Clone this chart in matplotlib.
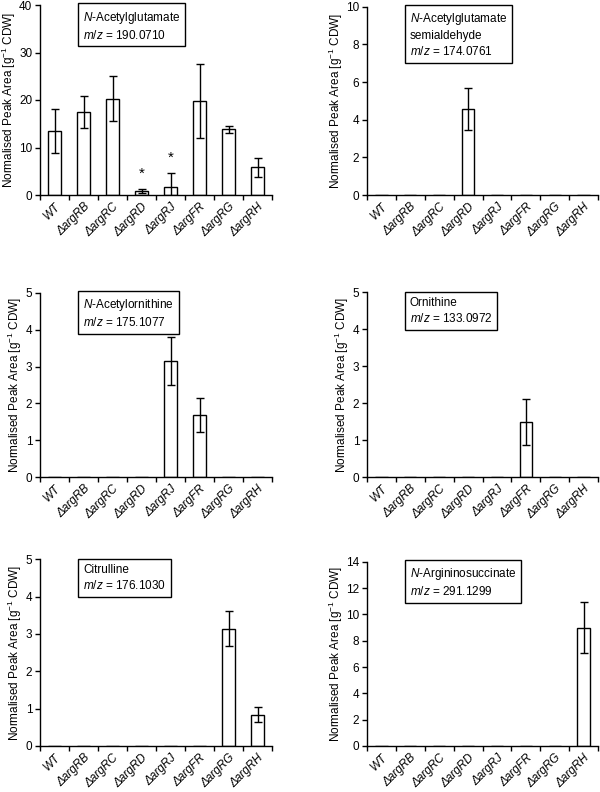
import numpy as np
import matplotlib.pyplot as plt

plt.rcParams['font.family'] = ['Liberation Sans', 'DejaVu Sans']
plt.rcParams['mathtext.fontset'] = 'custom'
plt.rcParams['mathtext.rm'] = 'Liberation Sans'
plt.rcParams['mathtext.it'] = 'Liberation Sans:italic'

strains = ["WT", "ΔargRB", "ΔargRC", "ΔargRD", "ΔargRJ", "ΔargFR", "ΔargRG", "ΔargRH"]

# N-Acetylglutamate
nag_mean = [13.5, 17.5, 20.3, 0.85, 1.75, 19.8, 13.8, 5.8]
nag_err = [4.7, 3.3, 4.7, 0.45, 2.95, 7.7, 0.75, 2.05]
nag_stars = [3, 4]
# N-Acetylglutamate semialdehyde
nags_mean = [0, 0, 0, 4.58, 0, 0, 0, 0]
nags_err = [0, 0, 0, 1.12, 0, 0, 0, 0]
# N-Acetylornithine
nao_mean = [0, 0, 0, 0, 3.15, 1.7, 0, 0]
nao_err = [0, 0, 0, 0, 0.64, 0.46, 0, 0]
# Ornithine
orn_mean = [0, 0, 0, 0, 0, 1.49, 0, 0]
orn_err = [0, 0, 0, 0, 0, 0.63, 0, 0]
# Citrulline
cit_mean = [0, 0, 0, 0, 0, 0, 3.14, 0.84]
cit_err = [0, 0, 0, 0, 0, 0, 0.47, 0.2]
# N-Argininosuccinate
asa_mean = [0, 0, 0, 0, 0, 0, 0, 9.0]
asa_err = [0, 0, 0, 0, 0, 0, 0, 1.95]

panels = [
    (r"$\it{N}$-Acetylglutamate" + "\n" + r"$\it{m/z}$ = 190.0710", nag_mean, nag_err, nag_stars, 40, 10,
     [40, 5, 232, 190]),
    (r"$\it{N}$-Acetylglutamate" + "\nsemialdehyde\n" + r"$\it{m/z}$ = 174.0761", nags_mean, nags_err, [], 10, 2,
     [367, 6.7, 231, 188.3]),
    (r"$\it{N}$-Acetylornithine" + "\n" + r"$\it{m/z}$ = 175.1077", nao_mean, nao_err, [], 5, 1,
     [40, 292.7, 232, 184.6]),
    ("Ornithine\n" + r"$\it{m/z}$ = 133.0972", orn_mean, orn_err, [], 5, 1,
     [367, 292.3, 231, 185]),
    ("Citrulline\n" + r"$\it{m/z}$ = 176.1030", cit_mean, cit_err, [], 5, 1,
     [40, 559.3, 232, 186.7]),
    (r"$\it{N}$-Argininosuccinate" + "\n" + r"$\it{m/z}$ = 291.1299", asa_mean, asa_err, [], 14, 2,
     [367, 561.7, 231, 184.3]),
]

W, H = 600, 792
fig = plt.figure(figsize=(6, 7.92), dpi=100)

for label, mean, err, stars, ymax, ystep, (px, py, pw, ph) in panels:
    ax = fig.add_axes([px / W, 1 - (py + ph) / H, pw / W, ph / H])
    x = np.arange(len(strains))
    mean = np.array(mean)
    err = np.array(err)
    ax.bar(x, mean, width=0.42, color="white", edgecolor="black", linewidth=1.0, zorder=2)
    nz = mean > 0
    ax.errorbar(x[nz], mean[nz], yerr=err[nz], fmt="none", ecolor="black",
                elinewidth=1.0, capsize=3.2, capthick=1.0, zorder=3)
    for i in stars:
        ax.annotate("*", (x[i], mean[i] + err[i]), xytext=(0, 5.5), textcoords="offset points",
                    ha="center", va="bottom", fontsize=11)
    ax.set_xlim(-0.5, 7.5)
    ax.set_ylim(0, ymax)
    ax.set_yticks(np.arange(0, ymax + 0.01, ystep))
    ax.set_xticks(x)
    ax.set_xticklabels(strains, rotation=45, ha="right", rotation_mode="anchor", style="italic")
    ax.set_xticks(np.arange(-0.5, 8), minor=True)
    ax.tick_params(axis="x", which="major", length=0, labelsize=8.5, pad=4)
    ax.tick_params(axis="x", which="minor", length=3.5, width=1.0, direction="out")
    ax.tick_params(axis="y", length=3.5, width=1.0, direction="out", labelsize=8.5, pad=2)
    for s in ["top", "right"]:
        ax.spines[s].set_visible(False)
    for s in ["left", "bottom"]:
        ax.spines[s].set_linewidth(1.0)
    ax.set_ylabel("Normalised Peak Area [g$^{-1}$ CDW]", fontsize=8.5, labelpad=1)
    ax.text(0.185, 0.975, label, transform=ax.transAxes, ha="left", va="top", fontsize=8.5,
            linespacing=1.3,
            bbox=dict(boxstyle="square,pad=0.4", facecolor="white", edgecolor="black", linewidth=1.0))

fig.savefig("out.png", dpi=100)
